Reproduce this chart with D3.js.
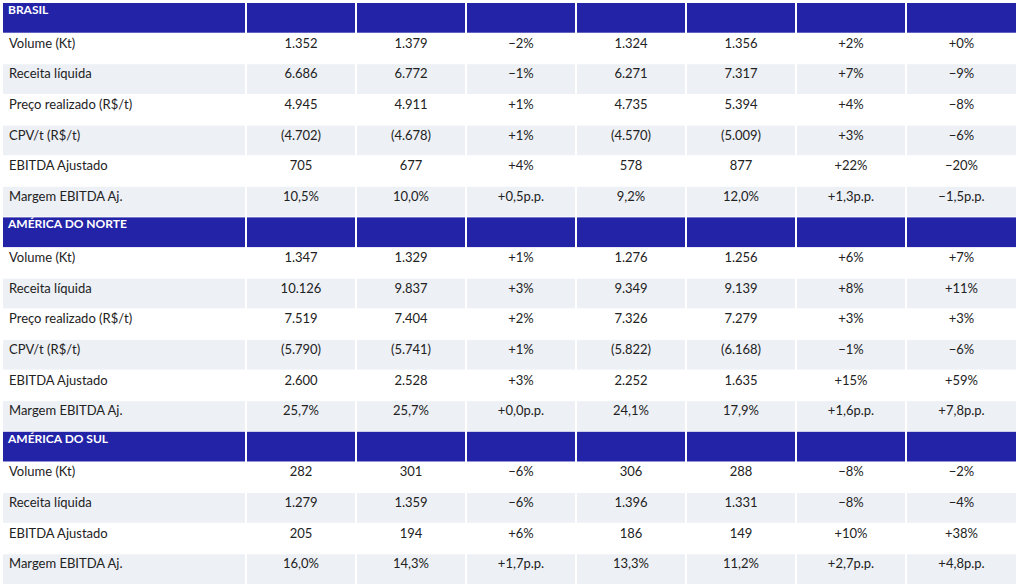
<!DOCTYPE html>
<html><head><meta charset="utf-8">
<script src="https://cdn.jsdelivr.net/npm/d3@7"></script>
<style>body{margin:0;background:#fff}svg{display:block;font-family:Lato,"Open Sans",sans-serif}</style>
</head><body><svg id="t" width="1024" height="588"></svg>
<script>
const sections = ["BRASIL", "AMÉRICA DO NORTE", "AMÉRICA DO SUL"];
const brasilRows = [
  ["Volume (Kt)", "1.352", "1.379", "−2%", "1.324", "1.356", "+2%", "+0%"],
  ["Receita líquida", "6.686", "6.772", "−1%", "6.271", "7.317", "+7%", "−9%"],
  ["Preço realizado (R$/t)", "4.945", "4.911", "+1%", "4.735", "5.394", "+4%", "−8%"],
  ["CPV/t (R$/t)", "(4.702)", "(4.678)", "+1%", "(4.570)", "(5.009)", "+3%", "−6%"],
  ["EBITDA Ajustado", "705", "677", "+4%", "578", "877", "+22%", "−20%"],
  ["Margem EBITDA Aj.", "10,5%", "10,0%", "+0,5p.p.", "9,2%", "12,0%", "+1,3p.p.", "−1,5p.p."]
];
const norteRows = [
  ["Volume (Kt)", "1.347", "1.329", "+1%", "1.276", "1.256", "+6%", "+7%"],
  ["Receita líquida", "10.126", "9.837", "+3%", "9.349", "9.139", "+8%", "+11%"],
  ["Preço realizado (R$/t)", "7.519", "7.404", "+2%", "7.326", "7.279", "+3%", "+3%"],
  ["CPV/t (R$/t)", "(5.790)", "(5.741)", "+1%", "(5.822)", "(6.168)", "−1%", "−6%"],
  ["EBITDA Ajustado", "2.600", "2.528", "+3%", "2.252", "1.635", "+15%", "+59%"],
  ["Margem EBITDA Aj.", "25,7%", "25,7%", "+0,0p.p.", "24,1%", "17,9%", "+1,6p.p.", "+7,8p.p."]
];
const sulRows = [
  ["Volume (Kt)", "282", "301", "−6%", "306", "288", "−8%", "−2%"],
  ["Receita líquida", "1.279", "1.359", "−6%", "1.396", "1.331", "−8%", "−4%"],
  ["EBITDA Ajustado", "205", "194", "+6%", "186", "149", "+10%", "+38%"],
  ["Margem EBITDA Aj.", "16,0%", "14,3%", "+1,7p.p.", "13,3%", "11,2%", "+2,7p.p.", "+4,8p.p."]
];
const groups = [brasilRows, norteRows, sulRows];

// flatten into lines: header or data row
const lines = [];
groups.forEach((rows, gi) => {
  lines.push({type: "h", label: sections[gi]});
  rows.forEach((r, i) => lines.push({type: "d", cells: r, shade: i % 2 === 1}));
});

const svg = d3.select("#t");
const y = d3.scaleBand().domain(d3.range(lines.length)).range([3, 584]).paddingInner(0.03);
const colEdges = [3, 247, 357, 467, 577, 687, 797, 907, 1018];
const x = i => colEdges[i];
const w = i => colEdges[i + 1] - colEdges[i] - 2;

const g = svg.selectAll("g.line").data(lines).join("g")
  .attr("transform", (d, i) => `translate(0,${y(i)})`);

g.each(function (d) {
  const sel = d3.select(this);
  const h = y.bandwidth();
  if (d.type === "h") {
    sel.selectAll("rect").data(d3.range(8)).join("rect")
      .attr("x", x).attr("width", w).attr("height", h).attr("fill", "#2323a8");
    sel.append("text").attr("x", 8).attr("y", 11).attr("fill", "#fff")
      .style("font-size", "12px").style("font-weight", "bold").text(d.label);
  } else {
    if (d.shade) sel.selectAll("rect").data(d3.range(8)).join("rect")
      .attr("x", x).attr("width", w).attr("height", h).attr("fill", "#edf0f5");
    sel.selectAll("text").data(d.cells).join("text")
      .attr("x", (c, i) => i === 0 ? 9 : x(i) + w(i) / 2)
      .attr("y", 14)
      .attr("text-anchor", (c, i) => i === 0 ? "start" : "middle")
      .attr("fill", "#222").style("font-size", "13px").text(c => c);
  }
});
</script></body></html>
